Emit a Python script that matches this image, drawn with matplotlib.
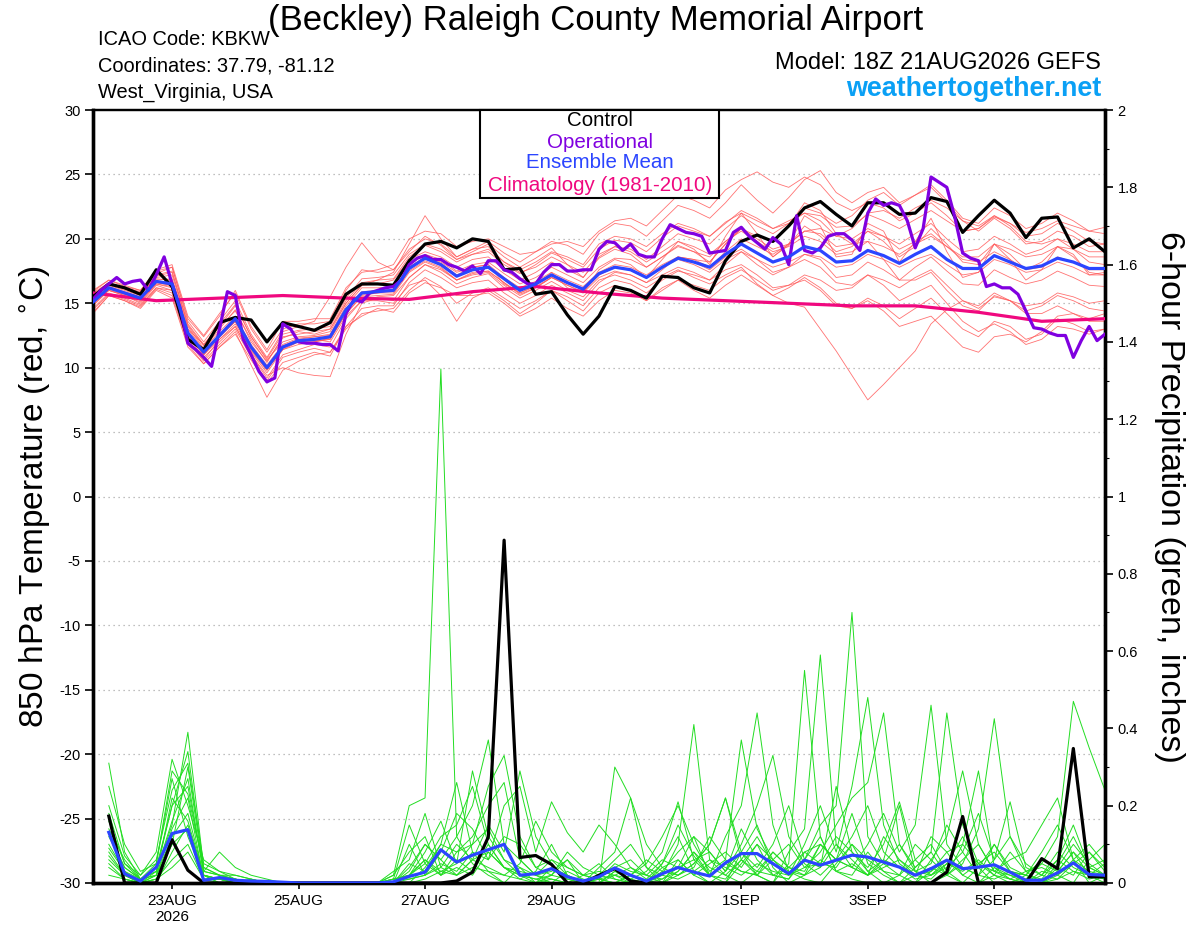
import numpy as np
import matplotlib
matplotlib.use("Agg")
import matplotlib.pyplot as plt
from matplotlib.patches import Rectangle

plt.rcParams['font.family'] = ['Liberation Sans', 'DejaVu Sans']
plt.rcParams['axes.unicode_minus'] = False

# forecast hours after 18Z 21AUG2026
hours = np.arange(0, 385, 6)
op_hours = np.arange(0, 385, 3)
clim_hours = np.arange(0, 385, 24)
precip_hours = np.arange(6, 385, 6)

date_ticks = [30, 78, 126, 174, 246, 294, 342]
date_labels = ['23AUG\n2026', '25AUG', '27AUG', '29AUG', '1SEP', '3SEP', '5SEP']

# 850 hPa temperature (C)
control_t = [15.5, 16.5, 16.2, 15.7, 17.6, 16.3, 12.2, 11.4, 13.5, 13.9, 13.7, 12.0, 13.5,
             13.2, 12.9, 13.5, 15.7, 16.5, 16.5, 16.4, 18.3, 19.6, 19.8, 19.3, 20.0, 19.8,
             17.6, 17.7, 15.7, 15.9, 14.1, 12.6, 14.0, 16.3, 16.0, 15.4, 17.1, 17.0, 16.2,
             15.8, 18.3, 19.8, 20.3, 19.8, 21.0, 22.4, 22.9, 21.9, 21.0, 22.8, 22.8, 21.9,
             22.0, 23.2, 22.9, 20.5, 21.8, 23.0, 22.0, 20.1, 21.6, 21.7, 19.3, 20.0, 19.0]

mean_t = [15.1, 16.2, 15.8, 15.4, 16.7, 16.5, 12.7, 11.2, 12.5, 13.8, 11.6, 10.0, 11.6,
          12.1, 12.2, 12.4, 14.5, 15.8, 15.9, 16.0, 17.7, 18.5, 18.0, 17.1, 17.6, 17.8,
          16.9, 16.0, 16.5, 17.2, 16.6, 16.1, 17.3, 17.8, 17.6, 17.0, 17.8, 18.5, 18.2,
          17.8, 18.8, 19.6, 18.9, 18.2, 18.6, 19.4, 19.1, 18.2, 18.3, 19.1, 18.7, 18.1,
          18.8, 19.4, 18.4, 17.7, 17.7, 18.7, 18.2, 17.7, 17.9, 18.5, 18.2, 17.7, 17.7]

oper_t = [15.3, 16.0, 16.5, 17.0, 16.5, 16.7, 16.8, 16.0, 17.2, 18.6, 16.5, 14.7, 11.9,
          11.4, 10.8, 10.1, 13.0, 15.9, 15.6, 12.2, 11.0, 9.7, 8.9, 9.2, 13.4, 13.0,
          12.0, 11.9, 11.9, 11.8, 11.8, 11.3, 14.2, 15.3, 15.1, 15.8, 16.0, 16.2, 16.3,
          16.8, 18.0, 18.5, 18.7, 18.4, 18.4, 18.0, 17.8, 17.5, 17.9, 17.3, 18.3, 18.3,
          17.6, 17.4, 16.9, 16.5, 16.5, 17.4, 18.0, 18.0, 17.5, 17.5, 17.6, 17.6, 19.2,
          19.8, 19.7, 19.1, 19.6, 18.8, 18.6, 18.6, 20.0, 21.1, 20.8, 20.5, 20.4, 20.2,
          18.9, 19.0, 19.1, 20.5, 20.9, 20.2, 19.7, 19.2, 20.1, 19.6, 18.0, 21.8, 19.1,
          18.9, 19.3, 20.2, 20.4, 20.4, 19.9, 19.1, 22.0, 23.1, 22.6, 22.8, 22.6, 21.4,
          19.3, 20.8, 24.8, 24.4, 24.0, 21.7, 18.9, 18.5, 18.3, 16.3, 16.5, 16.2, 16.2,
          15.7, 14.4, 13.1, 13.0, 12.7, 12.5, 12.5, 10.8, 12.1, 13.2, 12.1, 12.6]

clim_t = [15.8, 15.2, 15.4, 15.6, 15.4, 15.3, 15.9, 16.3, 15.8, 15.4, 15.2, 15.0,
          14.8, 14.8, 14.3, 13.6, 13.8]

member_t = [
    [15.4, 16.4, 16.0, 15.6, 17.0, 17.2, 13.2, 11.5, 13.0, 14.5, 12.0, 10.5, 12.3,
     12.8, 12.6, 13.0, 15.2, 16.6, 16.8, 16.9, 18.6, 19.5, 19.0, 18.2, 18.8, 19.0,
     18.0, 17.3, 18.0, 18.9, 18.4, 17.8, 19.2, 19.9, 19.7, 19.0, 20.1, 21.0, 20.6,
     20.2, 21.3, 22.0, 21.4, 20.8, 21.2, 22.0, 21.8, 20.9, 21.0, 21.9, 21.4, 20.8,
     21.5, 22.2, 21.4, 20.6, 20.8, 21.7, 21.2, 20.5, 20.8, 21.4, 21.0, 20.6, 20.9],
    [14.8, 16.0, 15.6, 15.0, 16.4, 16.0, 12.4, 10.8, 12.0, 13.2, 11.0, 9.2, 11.0,
     11.4, 11.8, 11.6, 13.8, 15.2, 15.5, 15.6, 17.0, 18.0, 17.4, 16.5, 17.0, 17.3,
     16.2, 15.4, 16.0, 16.7, 16.0, 15.5, 16.8, 17.2, 16.8, 16.2, 17.0, 17.6, 17.0,
     16.5, 17.2, 17.8, 16.5, 15.6, 15.0, 14.7, 13.0, 11.3, 9.4, 7.5, 8.7, 10.0,
     11.3, 13.4, 14.5, 15.2, 14.6, 15.5, 15.2, 14.8, 15.0, 15.8, 15.5, 15.0, 15.2],
    [15.8, 16.6, 16.2, 15.9, 17.3, 17.8, 13.6, 12.0, 13.6, 15.2, 12.6, 10.8, 12.8,
     13.2, 13.6, 15.5, 17.8, 19.7, 18.2, 17.6, 19.0, 20.2, 19.5, 18.4, 19.0, 19.6,
     18.6, 17.8, 18.5, 19.3, 18.0, 17.0, 18.5, 19.2, 18.8, 17.8, 18.6, 19.5, 19.0,
     18.2, 19.6, 20.8, 19.8, 18.6, 19.5, 21.0, 20.2, 19.0, 19.4, 20.6, 19.8, 18.6,
     19.4, 20.8, 19.6, 18.2, 18.0, 19.6, 18.8, 17.6, 18.2, 19.4, 18.6, 17.4, 17.2],
    [14.2, 15.6, 15.2, 14.6, 16.0, 15.4, 11.6, 10.3, 11.6, 12.8, 10.2, 7.7, 9.8,
     10.5, 11.0, 11.2, 13.0, 14.2, 14.4, 14.6, 16.0, 17.0, 16.3, 15.0, 15.8, 16.2,
     15.4, 14.6, 15.2, 16.0, 15.5, 14.8, 16.2, 16.8, 16.5, 15.8, 16.8, 17.5, 17.2,
     16.8, 18.0, 19.0, 18.0, 17.2, 17.8, 18.8, 18.4, 17.0, 17.2, 18.2, 17.6, 16.8,
     17.8, 18.6, 17.5, 16.5, 16.4, 17.6, 17.0, 16.5, 16.8, 17.5, 17.0, 16.4, 16.3],
    [15.6, 16.5, 16.1, 15.8, 16.9, 16.8, 13.0, 11.8, 13.2, 14.8, 12.4, 10.6, 12.0,
     12.4, 12.5, 12.8, 15.0, 16.4, 16.8, 17.4, 19.6, 21.8, 20.0, 18.6, 19.2, 19.8,
     18.9, 18.2, 19.0, 19.8, 19.5, 18.8, 20.4, 21.2, 21.0, 20.2, 21.4, 22.6, 22.2,
     21.6, 22.8, 24.2, 23.0, 22.0, 23.2, 24.6, 25.3, 23.6, 22.8, 23.6, 24.0, 22.8,
     23.4, 24.2, 23.0, 21.6, 21.2, 22.4, 21.8, 20.8, 21.2, 22.0, 21.4, 20.6, 20.4],
    [14.6, 15.8, 15.4, 14.9, 16.2, 16.0, 12.2, 10.6, 12.2, 13.4, 11.2, 9.6, 11.4,
     12.0, 12.2, 12.0, 14.0, 15.2, 15.2, 15.0, 16.4, 16.8, 15.6, 13.6, 15.4, 16.0,
     15.2, 14.2, 15.0, 16.0, 15.2, 14.4, 15.8, 16.4, 16.0, 15.2, 16.2, 16.8, 16.0,
     15.4, 16.4, 17.2, 16.4, 15.6, 16.2, 17.0, 16.2, 15.0, 14.6, 15.4, 14.8, 13.8,
     14.6, 15.4, 14.2, 13.0, 12.4, 13.6, 13.2, 12.2, 12.6, 13.8, 13.4, 12.8, 13.0],
    [15.2, 16.3, 15.9, 15.5, 16.8, 16.9, 13.0, 11.4, 12.8, 14.0, 11.8, 10.2, 11.8,
     12.3, 12.4, 12.6, 14.8, 16.2, 16.2, 16.3, 18.0, 18.8, 18.4, 17.5, 18.0, 18.2,
     17.3, 16.5, 17.0, 17.8, 17.2, 16.6, 17.8, 18.5, 18.4, 17.8, 18.6, 19.4, 19.0,
     18.6, 19.8, 20.8, 20.0, 19.2, 19.6, 20.6, 20.4, 19.4, 19.6, 20.6, 20.2, 19.6,
     20.4, 21.2, 20.0, 19.0, 19.2, 20.2, 19.6, 18.8, 19.2, 20.0, 19.6, 19.0, 19.0],
    [15.0, 16.1, 15.7, 15.2, 16.5, 16.2, 12.6, 11.0, 12.4, 13.6, 11.5, 9.9, 11.4,
     11.8, 12.0, 12.2, 14.2, 15.6, 15.8, 16.0, 17.8, 18.6, 18.2, 17.4, 17.8, 18.0,
     16.5, 15.8, 16.4, 17.4, 16.2, 15.8, 17.6, 18.4, 18.0, 17.0, 18.4, 19.8, 19.2,
     18.0, 20.2, 22.0, 20.4, 18.6, 19.6, 21.8, 21.0, 18.6, 18.8, 21.2, 20.6, 18.2,
     19.8, 21.6, 19.0, 17.0, 17.4, 19.6, 18.4, 16.8, 17.6, 19.4, 18.8, 17.2, 17.4],
    [15.3, 16.2, 15.8, 15.3, 16.6, 16.4, 12.5, 11.0, 12.4, 13.6, 11.3, 9.8, 11.5,
     12.0, 12.0, 12.3, 14.4, 15.7, 15.8, 15.8, 17.5, 18.3, 17.8, 16.8, 17.4, 17.5,
     16.6, 15.7, 16.2, 17.0, 16.4, 15.8, 17.0, 17.5, 17.2, 16.6, 17.2, 17.8, 17.4,
     16.8, 17.6, 18.0, 17.2, 16.2, 16.4, 16.8, 16.0, 14.8, 14.6, 15.2, 14.4, 13.2,
     13.6, 14.0, 12.8, 11.6, 11.2, 12.4, 12.6, 12.0, 12.8, 14.0, 14.2, 13.8, 14.2],
    [15.5, 16.5, 16.1, 15.7, 17.1, 17.4, 13.4, 11.8, 13.2, 14.4, 12.2, 10.4, 12.4,
     12.6, 12.8, 13.0, 15.0, 16.4, 16.5, 16.8, 18.4, 19.0, 18.6, 17.8, 18.4, 18.6,
     17.6, 16.8, 17.4, 18.2, 17.6, 17.0, 18.6, 19.4, 19.2, 18.4, 19.4, 20.4, 20.0,
     19.6, 20.8, 21.8, 21.0, 20.4, 21.2, 22.4, 22.0, 21.2, 21.8, 23.0, 23.6, 22.6,
     23.4, 24.0, 22.8, 21.4, 20.6, 21.6, 20.8, 19.6, 19.8, 20.6, 20.2, 19.4, 19.6],
    [14.9, 16.0, 15.6, 15.1, 16.5, 16.3, 12.6, 11.1, 12.6, 13.9, 11.6, 10.0, 11.7,
     12.2, 12.4, 12.5, 14.6, 15.9, 16.0, 16.1, 17.8, 18.6, 18.1, 17.2, 17.8, 18.0,
     17.0, 16.2, 16.7, 17.4, 16.8, 16.3, 17.4, 18.0, 17.8, 17.2, 18.0, 18.6, 18.2,
     17.6, 18.6, 19.2, 18.4, 17.4, 17.8, 18.4, 17.8, 16.6, 16.4, 17.2, 16.4, 15.2,
     15.8, 16.4, 15.0, 13.6, 12.8, 13.4, 12.8, 11.8, 12.2, 13.2, 13.0, 12.6, 13.0],
    [15.7, 16.6, 16.2, 15.8, 17.2, 17.5, 13.3, 11.7, 13.4, 14.9, 12.4, 10.7, 12.6,
     12.9, 13.0, 13.2, 15.4, 16.9, 17.0, 17.2, 18.8, 19.6, 19.2, 18.4, 18.8, 19.2,
     18.2, 17.4, 17.8, 18.6, 18.0, 17.4, 18.8, 19.4, 19.0, 18.2, 19.0, 19.8, 19.4,
     18.8, 19.8, 20.6, 19.8, 19.0, 19.4, 20.2, 19.8, 18.8, 19.0, 19.8, 19.4, 18.8,
     19.6, 20.2, 19.4, 18.6, 18.6, 19.6, 19.2, 18.6, 18.8, 19.4, 19.2, 18.6, 18.6],
    [14.5, 15.7, 15.3, 14.8, 16.2, 15.8, 12.0, 10.5, 11.8, 13.0, 10.8, 9.0, 10.8,
     11.2, 11.5, 11.2, 13.2, 14.6, 14.8, 14.8, 16.6, 17.6, 17.0, 16.2, 16.6, 16.8,
     15.8, 15.0, 15.6, 16.4, 15.8, 15.2, 16.6, 17.4, 17.2, 16.6, 17.6, 18.6, 18.4,
     18.2, 19.6, 20.8, 20.2, 19.8, 21.0, 22.8, 22.2, 20.4, 19.6, 19.8, 18.4, 16.8,
     16.8, 17.4, 16.0, 14.8, 14.4, 15.6, 15.2, 14.4, 14.8, 15.6, 15.2, 14.6, 14.4],
    [15.1, 16.2, 15.8, 15.4, 16.7, 16.6, 12.8, 11.2, 12.4, 13.6, 11.4, 9.8, 11.6,
     12.0, 12.1, 12.2, 14.2, 15.5, 15.6, 15.7, 17.4, 18.2, 17.7, 16.8, 17.3, 17.5,
     16.6, 15.8, 16.3, 17.0, 16.4, 15.9, 17.2, 17.8, 17.6, 17.0, 17.8, 18.6, 18.4,
     17.8, 19.0, 20.0, 19.4, 18.8, 19.6, 20.6, 20.8, 20.2, 20.8, 22.0, 22.2, 21.6,
     22.4, 23.0, 22.4, 21.4, 21.0, 21.8, 21.0, 19.8, 19.6, 20.0, 19.2, 18.2, 18.0],
    [15.9, 16.8, 16.3, 16.0, 17.5, 17.8, 13.8, 12.4, 14.0, 16.0, 13.2, 11.4, 13.6,
     13.6, 13.8, 13.8, 16.2, 17.4, 17.6, 18.0, 20.0, 20.6, 20.4, 19.4, 19.8, 20.0,
     19.4, 18.8, 19.0, 19.6, 19.8, 19.4, 20.6, 21.4, 21.6, 21.0, 22.2, 23.4, 23.0,
     22.4, 23.8, 24.6, 25.2, 24.4, 24.0, 24.8, 24.2, 22.8, 22.2, 22.8, 22.4, 21.4,
     22.0, 22.8, 21.8, 20.6, 20.8, 21.8, 21.2, 20.2, 20.4, 21.2, 20.6, 19.8, 19.6],
    [14.3, 15.6, 15.2, 14.7, 16.1, 15.6, 11.8, 10.3, 11.6, 12.6, 10.6, 8.8, 10.4,
     10.8, 11.2, 10.9, 13.2, 14.0, 14.6, 14.3, 15.8, 16.6, 16.2, 15.6, 15.6, 15.8,
     15.0, 14.0, 14.6, 15.4, 14.6, 14.0, 15.2, 16.0, 15.8, 15.2, 16.0, 16.8, 16.4,
     16.0, 17.0, 17.6, 16.8, 16.0, 16.4, 17.2, 16.8, 16.0, 16.2, 17.2, 16.8, 16.2,
     17.0, 17.6, 16.4, 15.2, 14.8, 15.8, 15.2, 14.2, 14.2, 14.8, 14.2, 13.6, 13.6],
    [15.0, 16.0, 15.7, 15.3, 16.6, 16.4, 12.6, 11.0, 12.2, 13.2, 11.0, 9.4, 10.0,
     9.6, 9.4, 9.3, 12.6, 15.0, 15.4, 15.2, 17.0, 18.0, 17.6, 16.8, 17.2, 17.4,
     16.4, 15.6, 16.2, 17.0, 16.6, 16.0, 17.2, 17.8, 17.6, 17.0, 17.8, 18.4, 18.0,
     17.4, 18.4, 19.0, 18.4, 17.8, 18.2, 18.8, 18.6, 17.8, 18.0, 18.8, 18.4, 17.8,
     18.4, 18.8, 18.0, 17.2, 17.4, 18.4, 18.0, 17.4, 17.6, 18.2, 17.8, 17.2, 17.2],
    [16.0, 16.8, 16.4, 16.0, 17.6, 18.0, 14.0, 12.5, 14.2, 15.8, 13.0, 11.2, 13.0,
     13.4, 13.4, 13.6, 16.0, 17.6, 17.4, 17.6, 19.2, 20.0, 19.6, 18.6, 19.2, 19.4,
     18.2, 17.6, 18.2, 19.0, 18.6, 18.0, 19.6, 20.2, 20.0, 19.4, 20.4, 21.2, 20.8,
     20.2, 21.2, 22.2, 21.6, 20.8, 21.4, 22.0, 21.4, 20.2, 20.0, 20.8, 20.2, 19.2,
     19.8, 20.4, 19.4, 18.4, 18.2, 19.0, 18.4, 17.6, 17.8, 18.6, 18.2, 17.6, 17.6],
]

# 6-hour precipitation (inches), 06h .. 384h
control_p = [0.173, 0, 0, 0, 0.112, 0.033, 0, 0, 0, 0, 0, 0, 0, 0, 0, 0,
             0, 0, 0, 0, 0, 0, 0.005, 0.028, 0.119, 0.887, 0.066, 0.071, 0.048, 0, 0, 0.02,
             0.037, 0.005, 0, 0, 0, 0, 0, 0, 0, 0, 0, 0, 0, 0, 0, 0,
             0, 0, 0, 0, 0, 0.028, 0.172, 0, 0, 0, 0, 0.063, 0.037, 0.348, 0.016, 0.016]

mean_p = [0.131, 0.024, 0.005, 0.041, 0.128, 0.138, 0.007, 0.014, 0.007, 0.005, 0.004, 0.002, 0, 0, 0, 0,
          0, 0, 0.003, 0.017, 0.028, 0.086, 0.054, 0.072, 0.086, 0.1, 0.02, 0.024, 0.037, 0.016, 0.005, 0.016,
          0.039, 0.02, 0.005, 0.024, 0.04, 0.028, 0.018, 0.052, 0.076, 0.076, 0.05, 0.024, 0.059, 0.046, 0.059, 0.072,
          0.067, 0.054, 0.041, 0.02, 0.037, 0.059, 0.037, 0.041, 0.047, 0.028, 0.007, 0.007, 0.026, 0.052, 0.022, 0.02]

member_p = [
    [.10, .03, 0, .02, .14, .22, .01, .01, 0, 0, 0, 0, 0, 0, 0, 0,
     0, 0, .02, .20, .22, 1.33, .12, .05, .02, 0, .04, 0, .02, .06, 0, 0,
     .02, 0, 0, .05, .12, .03, 0, 0, .08, .15, .04, 0, .02, .10, .06, .18,
     .05, .02, 0, 0, .06, .02, 0, .04, .10, .03, 0, 0, .05, .12, .04, .02],
    [.05, .01, 0, 0, .08, .15, .02, .01, .01, 0, 0, 0, 0, 0, 0, 0,
     0, 0, 0, .04, .10, .06, .12, .20, .37, .10, .06, .02, 0, .03, .01, 0,
     .30, .22, .04, 0, .06, .02, 0, .03, .08, .02, 0, .05, .55, .12, .03, .02,
     .08, .03, 0, .02, .01, .05, .12, .04, 0, 0, .02, .08, .15, .06, 0, .02],
    [.31, .08, .01, .05, .27, .12, .02, 0, 0, .01, 0, 0, 0, 0, 0, 0,
     0, 0, 0, 0, .04, .10, .26, .08, .03, 0, 0, 0, 0, 0, .02, .05,
     .01, 0, 0, .03, .08, .12, .02, 0, .05, .10, .02, .01, .06, .15, .20, .70,
     .12, .05, .02, 0, .03, .08, .02, 0, .04, .01, 0, 0, .03, .08, .02, 0],
    [.08, .02, 0, .03, .15, .39, .04, .02, .01, 0, 0, 0, 0, 0, 0, 0,
     0, 0, 0, .02, .08, .16, .05, .29, .12, .06, .02, .01, 0, 0, 0, 0,
     .03, .01, 0, 0, .02, .05, .10, .22, .06, .02, 0, .08, .14, .59, .10, .04,
     .02, .06, .20, .03, 0, .02, .10, .05, .02, 0, 0, .03, .02, 0, .06, .10],
    [.18, .05, .02, .08, .32, .20, .06, .03, .02, .01, 0, 0, 0, 0, 0, 0,
     0, 0, .01, .15, .05, .02, .08, .10, .25, .33, .12, .04, .06, .02, 0, 0,
     0, 0, 0, .02, .10, .41, .06, .02, 0, .03, .08, .04, .02, .06, .03, .01,
     0, 0, 0, .04, .08, .02, .05, .14, .425, .12, .03, 0, .01, .05, .02, .01],
    [.06, .02, 0, .01, .10, .30, .03, .08, .04, .02, .01, 0, 0, 0, 0, 0,
     0, 0, .03, .06, .18, .04, .02, .06, .15, .08, .29, .12, .05, .01, 0, .02,
     .04, .06, .02, 0, .03, .08, .02, .12, .20, .44, .15, .03, .01, 0, .05, .10,
     .03, 0, .02, .06, .10, .03, 0, 0, .02, .08, .03, .05, .12, .47, .35, .24],
    [.14, .06, .01, .02, .22, .16, .02, 0, 0, 0, 0, 0, 0, 0, 0, 0,
     0, 0, 0, .10, .02, .08, .18, .14, .06, .20, .25, .08, .21, .13, .08, .15,
     .10, .04, .01, .05, .15, .07, .02, .01, .06, .12, .05, .02, .10, .20, .08, .25,
     .48, .15, .05, .02, .04, .02, .06, .10, .03, .01, 0, 0, .02, .05, .08, .03],
    [.04, .01, 0, .01, .06, .10, .01, .01, 0, 0, 0, 0, 0, 0, 0, 0,
     0, 0, .01, .02, .06, .02, .04, .02, .08, .04, .02, 0, .04, .02, 0, .01,
     0, .02, .05, .12, .20, .10, .03, .06, .37, .14, .06, .02, .04, .08, .15, .22,
     .26, .44, .10, .03, .05, .15, .08, .02, .01, .03, .02, 0, .04, .10, .05, .02],
    [.12, .04, .01, .04, .20, .25, .03, .02, .01, 0, 0, 0, 0, 0, 0, 0,
     0, 0, 0, .03, .10, .06, .02, .04, .03, .02, .05, .16, .08, .04, .02, .01,
     .05, .03, .02, .01, .04, .06, .08, .03, .10, .20, .33, .12, .05, .02, .06, .04,
     .10, .18, .08, .15, .46, .10, .04, .02, .06, .12, .05, .02, .01, .03, .02, .05],
    [.20, .07, .02, .06, .24, .31, .05, .03, .01, 0, 0, 0, 0, 0, 0, 0,
     0, 0, .02, .08, .12, .02, .06, .03, .10, .04, .01, .03, .10, .02, 0, .04,
     .08, .22, .10, .04, .02, .05, .10, .22, .08, .04, .10, .20, .06, .12, .03, .05,
     .02, .05, .10, .04, .08, .44, .15, .05, .03, .02, 0, .02, .06, .03, .01, .02],
    [.25, .10, .03, .05, .29, .23, .04, .02, .02, .01, 0, 0, 0, 0, 0, 0,
     0, 0, 0, .05, .03, .10, .08, .12, .20, .26, .06, .02, .03, .06, .02, .01,
     .02, .01, .03, .08, .21, .06, .02, .05, .03, .02, .06, .10, .04, .05, .12, .08,
     .04, .10, .21, .06, .02, .04, .08, .18, .06, .21, .04, .02, .08, .04, .02, .01],
    [.07, .02, 0, .02, .12, .18, .02, .01, 0, 0, 0, 0, 0, 0, 0, 0,
     0, 0, .01, .01, .02, .04, .10, .06, .04, .02, .01, 0, .01, 0, 0, .02,
     .01, 0, 0, .01, .03, .08, .04, .02, .06, .03, .02, .01, .08, .05, .04, .10,
     .06, .03, .02, .10, .06, .12, .29, .10, .03, .06, .08, .15, .22, .06, .03, .02],
    [.16, .05, .01, .03, .20, .34, .03, .02, .01, 0, 0, 0, 0, 0, 0, 0,
     0, 0, 0, .02, .05, .12, .15, .25, .10, .04, .02, .01, .02, .01, 0, 0,
     .03, .02, 0, .04, .06, .02, .05, .08, .04, .10, .06, .03, .02, .04, .25, .08,
     .03, .06, .04, .02, .12, .08, .10, .29, .04, .02, .01, .05, .03, .08, .04, .06],
    [.09, .03, .01, .02, .10, .14, .02, .01, 0, 0, 0, 0, 0, 0, 0, 0,
     0, 0, 0, .01, .02, .05, .03, .08, .06, .12, .10, .04, .02, .08, .04, .02,
     .06, .10, .04, .02, .01, .03, .06, .04, .02, .05, .03, .02, .06, .04, .10, .06,
     .02, .04, .06, .02, .03, .06, .04, .02, .10, .04, .02, .06, .04, .02, .08, .04],
    [.02, .01, 0, .01, .04, .08, .01, 0, 0, 0, 0, 0, 0, 0, 0, 0,
     0, 0, 0, 0, .01, .03, .02, .06, .08, .04, .03, .02, .06, .04, .02, .03,
     .02, .04, .02, .06, .04, .12, .08, .03, .14, .06, .02, .04, .08, .10, .06, .12,
     .20, .08, .04, .01, .02, .06, .02, .05, .08, .03, .02, .01, .06, .15, .04, .02],
    [.13, .04, .01, .03, .16, .27, .02, .01, 0, 0, 0, 0, 0, 0, 0, 0,
     0, 0, .01, .02, .06, .03, .05, .10, .14, .06, .04, .02, .01, 0, 0, .01,
     0, .02, .06, .03, .02, .04, .12, .06, .03, .02, .08, .04, .03, .10, .06, .04,
     .02, .12, .06, .03, .02, .05, .03, .06, .02, .01, .03, .04, .02, .06, .10, .05],
]

for m in member_t:
    assert len(m) == len(hours), len(m)
for m in member_p:
    assert len(m) == len(precip_hours), len(m)
assert len(control_t) == len(hours) and len(mean_t) == len(hours)
assert len(oper_t) == len(op_hours) and len(clim_t) == len(clim_hours)
assert len(control_p) == len(precip_hours) and len(mean_p) == len(precip_hours)

fig = plt.figure(figsize=(12, 9.27), dpi=100)
ax = fig.add_axes([0.0775, 0.0475, 0.8433, 0.8338])
ax2 = ax.twinx()


def to_p(t):
    # temperature scale (-30..30) onto the precipitation scale (0..2)
    return (np.array(t) + 30) / 30.0


# precipitation (right axis)
for m in member_p:
    ax2.plot(precip_hours, m, color='#22dd22', lw=0.7, zorder=2)
ax2.plot(precip_hours, control_p, color='black', lw=2.3, zorder=4)
ax2.plot(precip_hours, mean_p, color='#2b45ff', lw=2.3, zorder=5)

# temperature (left axis)
for yv in range(-25, 30, 5):
    ax2.axhline(to_p(yv), color='#aaaaaa', lw=0.9, ls=(0, (1, 3)), zorder=1)
for m in member_t:
    ax2.plot(hours, to_p(m), color='#ff5a5a', lw=0.6, alpha=0.85, zorder=2)
ax2.plot(clim_hours, to_p(clim_t), color='#f0087f', lw=2.3, zorder=3)
ax2.plot(hours, to_p(control_t), color='black', lw=2.3, zorder=4)
ax2.plot(op_hours, to_p(oper_t), color='#8000e0', lw=2.3, zorder=5)
ax2.plot(hours, to_p(mean_t), color='#2b45ff', lw=2.3, zorder=6)

ax.set_xlim(0, 384)
ax.set_ylim(-30, 30)
ax2.set_ylim(0, 2)

ax.set_yticks(range(-30, 31, 5))
ax.tick_params(axis='y', labelsize=10.5, length=6, width=1.2, direction='out', pad=3)
ax2.set_yticks(np.arange(0, 2.01, 0.2))
ax2.set_yticklabels(['0', '0.2', '0.4', '0.6', '0.8', '1', '1.2', '1.4', '1.6', '1.8', '2'])
ax2.set_yticks(np.arange(0.1, 2.0, 0.2), minor=True)
ax2.tick_params(axis='y', labelsize=10.5, length=6, width=1.2, direction='out', pad=3)
ax2.tick_params(axis='y', which='minor', length=3, width=0.8)

ax.set_xticks(date_ticks)
ax.set_xticklabels(date_labels)
ax.tick_params(axis='x', labelsize=11, length=4, width=1.2, direction='out', pad=4)

for a in (ax, ax2):
    for side in ('left', 'right', 'bottom'):
        a.spines[side].set_linewidth(2.4)
    a.spines['top'].set_linewidth(1.6)

ax.set_ylabel('850 hPa Temperature (red, $^{\\circ}$C)', fontsize=24)
ax.yaxis.set_label_coords(-0.040, 0.5)
ax2.set_ylabel('6-hour Precipitation (green, inches)', fontsize=24.5, rotation=270, va='bottom')
ax2.yaxis.set_label_coords(1.048, 0.5)

fig.text(0.496, 0.978, '(Beckley) Raleigh County Memorial Airport', fontsize=25,
         ha='center', va='center')
fig.text(0.0817, 0.957, 'ICAO Code: KBKW', fontsize=14.4, ha='left', va='center')
fig.text(0.0817, 0.929, 'Coordinates: 37.79, -81.12', fontsize=14.4, ha='left', va='center')
fig.text(0.0817, 0.900, 'West_Virginia, USA', fontsize=14.4, ha='left', va='center')
fig.text(0.9175, 0.932, 'Model: 18Z 21AUG2026 GEFS', fontsize=17, ha='right', va='center')
fig.text(0.9175, 0.904, 'weathertogether.net', fontsize=19.4, fontweight='bold',
         color='#0aa0f5', ha='right', va='center')

# legend box
fig.patches.append(Rectangle((0.4, 0.7864), 0.1992, 0.0949, transform=fig.transFigure,
                             facecolor='white', edgecolor='black', lw=1.5, zorder=5))
leg_items = [('Control', 'black'), ('Operational', '#8000e0'),
             ('Ensemble Mean', '#2b45ff'), ('Climatology (1981-2010)', '#f0087f')]
leg_y = [0.8695, 0.8468, 0.8242, 0.8004]
for (name, col), yy in zip(leg_items, leg_y):
    fig.text(0.5, yy, name, color=col, fontsize=14.8, ha='center', va='center', zorder=6)

fig.savefig('out.png', dpi=100)
